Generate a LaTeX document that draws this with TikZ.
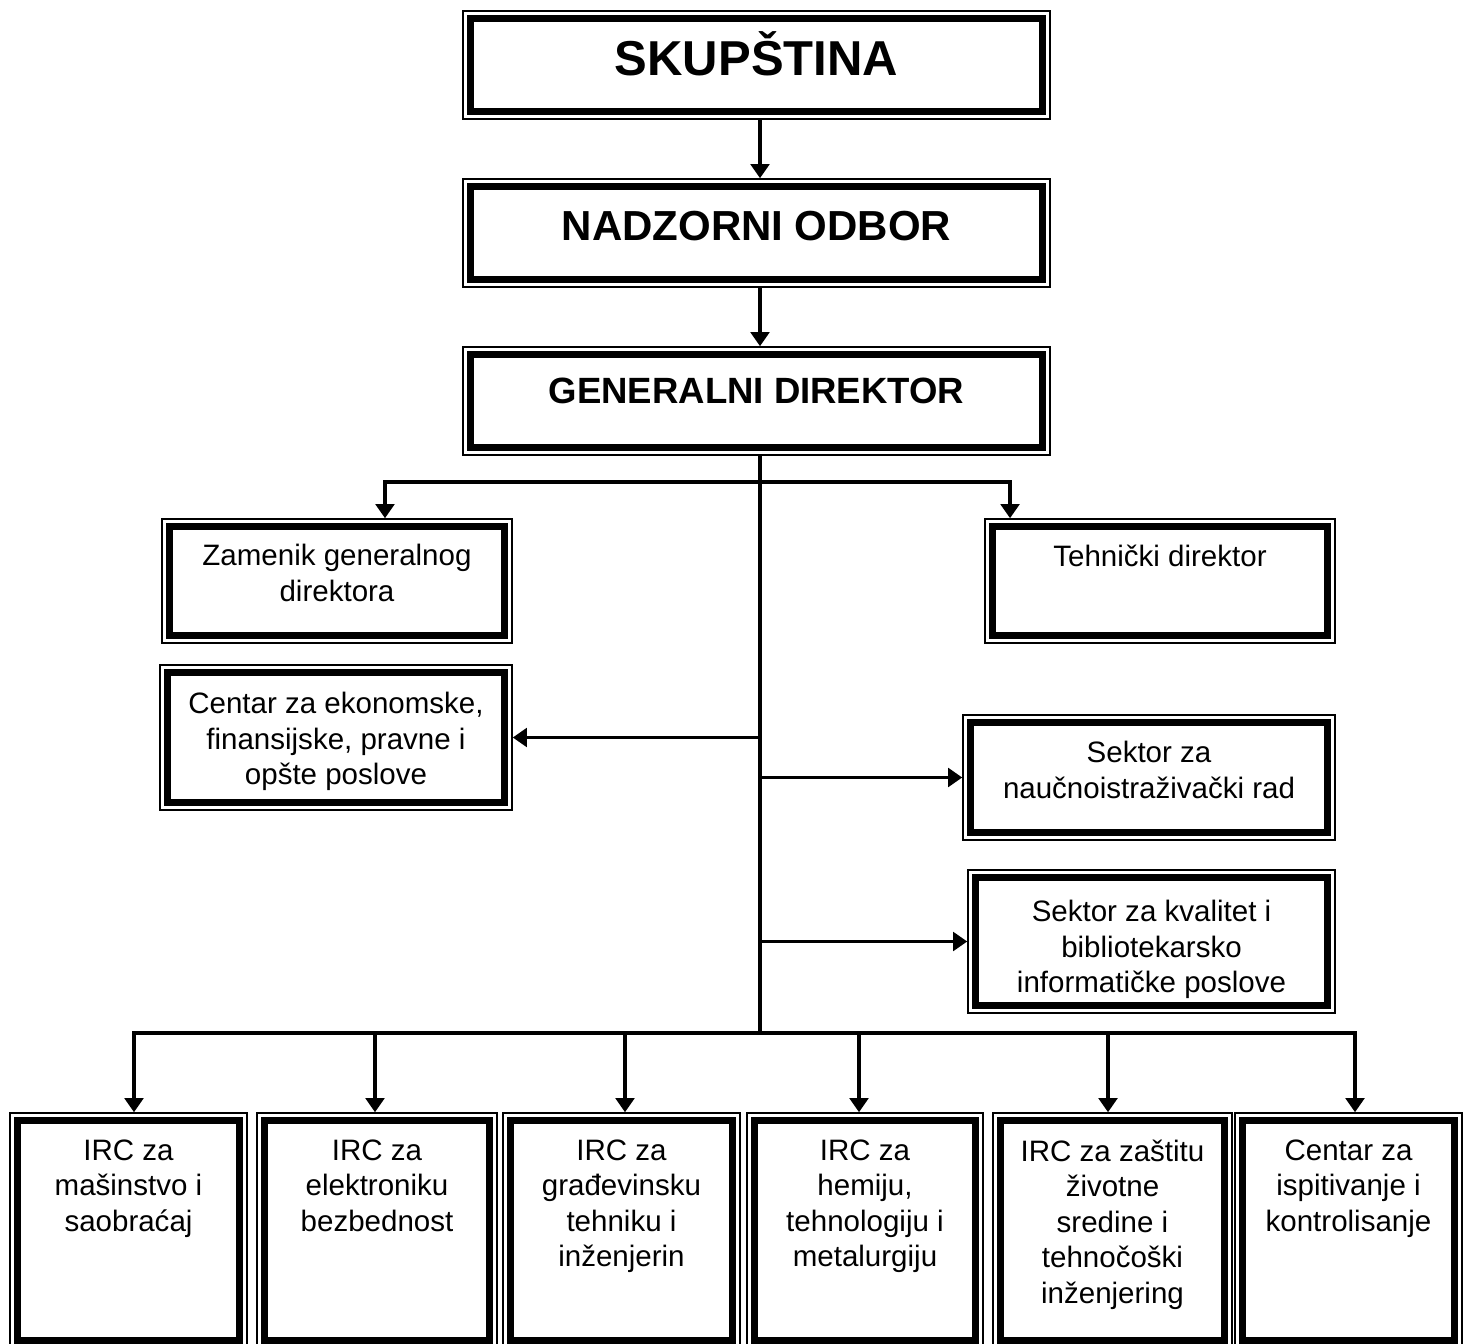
\documentclass[tikz,border=0pt]{standalone}
\usepackage{fontspec}
\setmainfont{Liberation Sans}
\usepackage{tikz}
\usetikzlibrary{arrows.meta}
\usetikzlibrary{positioning}
\tikzset{
  orgbox/.style 2 args={draw, line width=0.85pt, inner sep=0pt,
    minimum width=#1*0.02cm, minimum height=#2*0.02cm,
    path picture={\draw[line width=4pt]
      ([shift={(0.15cm,-0.15cm)}]path picture bounding box.north west) rectangle
      ([shift={(-0.15cm,0.15cm)}]path picture bounding box.south east);}},
  orgtext/.style={font=\fontsize{16.8}{20.2}\selectfont, align=center, inner sep=0pt},
  headtext/.style={font=\fontsize{#1}{#1}\selectfont\bfseries, inner sep=0pt, anchor=base},
  link/.style={line width=2pt},
  linkarrow/.style={link, -{Triangle[width=10.5pt,length=8pt]}}
}

\begin{document}
\begin{tikzpicture}[x=0.02cm, y=-0.02cm]
        \useasboundingbox (0,0) rectangle (1463,1344);
        % uprava
        \node[orgbox={587}{108}] (skup) at (756.5,65) {};
        \node[headtext=27.9] (skup-t) at ([yshift=-1.3cm]skup.north) {SKUPŠTINA};
        \node[orgbox={587}{108}] (nadz) at (756.5,233) {};
        \node[headtext=23.9] (nadz-t) at ([yshift=-1.24cm]nadz.north) {NADZORNI ODBOR};
        \node[orgbox={587}{108}] (gd) at (756.5,401) {};
        \node[headtext=20.8] (gd-t) at ([yshift=-1.14cm]gd.north) {GENERALNI DIREKTOR};

        % sektori
        \node[orgbox={350}{124}] (zam) at (337,581) {};
        \node[orgtext, below=0.52cm of zam.north] (zam-t) {Zamenik generalnog\\direktora};
        \node[orgbox={350}{124}] (teh) at (1160,581) {};
        \node[orgtext, below=0.52cm of teh.north] (teh-t) {Tehnički direktor};
        \node[orgbox={352}{145}] (cen) at (336,737.5) {};
        \node[orgtext, below=0.56cm of cen.north] (cen-t) {Centar za ekonomske,\\finansijske, pravne i\\opšte poslove};
        \node[orgbox={372}{125}] (nau) at (1149,777.5) {};
        \node[orgtext, below=0.54cm of nau.north] (nau-t) {Sektor za\\naučnoistraživački rad};
        \node[orgbox={367}{143}] (kval) at (1151.5,941.5) {};
        \node[orgtext, below=0.62cm of kval.north] (kval-t) {Sektor za kvalitet i\\bibliotekarsko\\informatičke poslove};

        % centri
        \node[orgbox={237}{235}] (irc1) at (128.5,1230.5) {};
        \node[orgtext, below=0.54cm of irc1.north] (irc1-t) {IRC za\\mašinstvo i\\saobraćaj};
        \node[orgbox={240}{235}] (irc2) at (377,1230.5) {};
        \node[orgtext, below=0.54cm of irc2.north] (irc2-t) {IRC za\\elektroniku\\bezbednost};
        \node[orgbox={237}{235}] (irc3) at (621.5,1230.5) {};
        \node[orgtext, below=0.54cm of irc3.north] (irc3-t) {IRC za\\građevinsku\\tehniku i\\inženjerin};
        \node[orgbox={236}{235}] (irc4) at (865,1230.5) {};
        \node[orgtext, below=0.54cm of irc4.north] (irc4-t) {IRC za\\hemiju,\\tehnologiju i\\metalurgiju};
        \node[orgbox={239}{235}] (irc5) at (1112.5,1230.5) {};
        \node[orgtext, below=0.54cm of irc5.north] (irc5-t) {IRC za zaštitu\\životne\\sredine i\\tehnočoški\\inženjering};
        \node[orgbox={227}{235}] (irc6) at (1348.5,1230.5) {};
        \node[orgtext, below=0.54cm of irc6.north] (irc6-t) {Centar za\\ispitivanje i\\kontrolisanje};

        % veze
        \coordinate (upbus) at (760,482);
        \coordinate (lowbus) at (760,1033);
        \draw[linkarrow] (skup.south -| upbus) -- (nadz.north -| upbus);
        \draw[linkarrow] (nadz.south -| upbus) -- (gd.north -| upbus);
        \draw[link] (gd.south -| upbus) -- (lowbus);
        \draw[linkarrow] (upbus) -| ([xshift=0.96cm]zam.north);
        \draw[linkarrow] (upbus) -| ([xshift=-3cm]teh.north);
        \draw[linkarrow] (cen.east -| upbus) -- (cen.east);
        \draw[linkarrow] (nau.west -| upbus) -- (nau.west);
        \draw[linkarrow] (kval.west -| upbus) -- (kval.west);
        \draw[linkarrow] (lowbus) -| ([xshift=0.11cm]irc1.north);
        \draw[linkarrow] (lowbus) -| ([xshift=-0.04cm]irc2.north);
        \draw[linkarrow] (lowbus) -| ([xshift=0.07cm]irc3.north);
        \draw[linkarrow] (lowbus) -| ([xshift=-0.12cm]irc4.north);
        \draw[linkarrow] (lowbus) -| ([xshift=-0.09cm]irc5.north);
        \draw[linkarrow] (lowbus) -| ([xshift=0.13cm]irc6.north);
      \end{tikzpicture}
\end{document}
